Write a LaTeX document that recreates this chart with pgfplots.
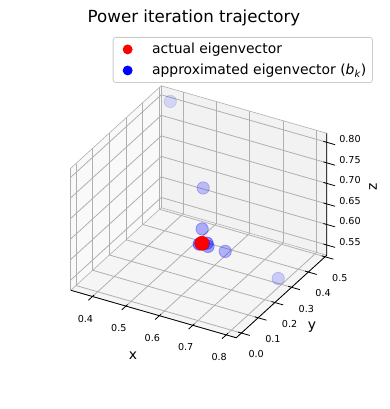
\documentclass[border=0pt]{standalone}
\usepackage{fontspec}
\setmainfont{DejaVu Sans}
\usepackage{pgfplots}
\pgfplotsset{compat=1.18}
\definecolor{gridc}{HTML}{B0B0B0}
\definecolor{paneX}{gray}{0.975}
\definecolor{paneY}{gray}{0.95}
\definecolor{paneZ}{gray}{0.9625}
\definecolor{mplblue}{rgb}{0,0,1}
\definecolor{mplred}{rgb}{1,0,0}
\definecolor{legframe}{gray}{0.8}
\pgfplotsset{mylegimg/.style={legend image code/.code={\path (-10.5pt,0pt) (22.5pt,0pt); \draw[##1] plot coordinates {(0pt,0pt)};}}}
\begin{document}
\begin{tikzpicture}[x=1pt,y=1pt]
\begin{axis}[
  set layers,
  x={(334.3pt,-96.0pt)}, y={(167.3pt,152.5pt)}, z={(0pt,410.8pt)},
  scale mode=none,
  xmin=0.335, xmax=0.83, ymin=-0.031, ymax=0.51, zmin=0.525, zmax=0.822,
  clip=false,
  grid=major,
  major grid style={gridc, line width=0.8pt},
  axis line style={gridc, line width=0.6pt},
  tick style={draw=none},
  major tick length=0pt,
  xtick={0.4,0.5,0.6,0.7,0.8}, xticklabels={0.4,0.5,0.6,0.7,0.8},
  ytick={0,0.1,0.2,0.3,0.4,0.5}, yticklabels={0.0,0.1,0.2,0.3,0.4,0.5},
  ztick={0.55,0.6,0.65,0.7,0.75,0.8}, zticklabels={0.55,0.60,0.65,0.70,0.75,0.80},
  zticklabel pos=right,
  tick label style={font=\fontsize{9.6}{11}\selectfont},
  xticklabel style={xshift=-3pt, yshift=-13pt},
  yticklabel style={xshift=7pt, yshift=-11pt},
  zticklabel style={xshift=9pt},
  xlabel={x}, ylabel={y}, zlabel={z},
  xlabel style={at={(axis description cs:0.2432,-0.07)}, anchor=center, rotate=0, font=\fontsize{13.9}{16}\selectfont},
  ylabel style={at={(axis description cs:0.9424,0.0427)}, anchor=center, rotate=0, font=\fontsize{13.9}{16}\selectfont},
  zlabel style={at={(axis description cs:1.1807,0.5982)}, anchor=center, rotate=0, font=\fontsize{13.9}{16}\selectfont},
  title={Power iteration trajectory},
  title style={at={(axis description cs:0.4814,1.245)}, anchor=center, font=\fontsize{16.67}{20}\selectfont},
  legend cell align=left,
  legend style={at={(axis description cs:1.18,1.1935)}, anchor=north east, draw=legframe, line width=0.8pt, fill=white,
    rounded corners=2.5pt, font=\fontsize{13.9}{16}\selectfont, row sep=5pt, inner xsep=4pt, inner ysep=4pt},
]
% panes
\addplot3[on layer=axis background, fill=paneX, draw=none, forget plot] coordinates
  {(0.335,-0.031,0.525) (0.335,0.51,0.525) (0.335,0.51,0.822) (0.335,-0.031,0.822) (0.335,-0.031,0.525)};
\addplot3[on layer=axis background, fill=paneY, draw=none, forget plot] coordinates
  {(0.335,0.51,0.525) (0.83,0.51,0.525) (0.83,0.51,0.822) (0.335,0.51,0.822) (0.335,0.51,0.525)};
\addplot3[on layer=axis background, fill=paneZ, draw=none, forget plot] coordinates
  {(0.335,-0.031,0.525) (0.83,-0.031,0.525) (0.83,0.51,0.525) (0.335,0.51,0.525) (0.335,-0.031,0.525)};
% black axis lines
\addplot3[black, line width=0.8pt, forget plot] coordinates
  {(0.335,-0.031,0.525) (0.83,-0.031,0.525) (0.83,0.51,0.525) (0.83,0.51,0.822)};
% tick marks
\pgfplotsinvokeforeach{0.4,0.5,0.6,0.7,0.8}{
  \addplot3[black, line width=0.8pt, forget plot] coordinates {(#1,-0.021,0.525) (#1,-0.056,0.525)};
}
\pgfplotsinvokeforeach{0,0.1,0.2,0.3,0.4,0.5}{
  \addplot3[black, line width=0.8pt, forget plot] coordinates {(0.82,#1,0.525) (0.855,#1,0.525)};
}
\pgfplotsinvokeforeach{0.55,0.6,0.65,0.7,0.75,0.8}{
  \addplot3[black, line width=0.8pt, forget plot] coordinates {(0.82,0.51,#1) (0.855,0.51,#1)};
}
% approximated eigenvectors b_k
\addplot3[only marks, mark=*, mark size=6.2pt, color=mplblue, line width=0.8pt,
  scatter, point meta=explicit symbolic,
  scatter/@pre marker code/.code={\pgfscope\pgfsetfillopacity{\pgfplotspointmeta}\pgfsetstrokeopacity{\pgfplotspointmeta}},
  scatter/@post marker code/.code={\endpgfscope},
  forget plot] table[x=x, y=y, z=z, meta=a] {
x      y      z      a
0.367  0.500  0.795  0.12
0.790  0.300  0.537  0.17
0.625  0.181  0.763  0.22
0.737  0.089  0.669  0.27
0.686  0.053  0.725  0.30
0.715  0.030  0.698  0.34
0.714  0.026  0.707  0.38
0.703  0.002  0.711  0.42
0.710  0.012  0.710  0.46
0.706  0.006  0.712  0.50
0.709  0.010  0.711  0.55
0.708  0.008  0.712  0.60
};
% actual eigenvector
\addplot3[only marks, mark=*, mark size=7pt, color=mplred, line width=0.6pt, forget plot] coordinates {(0.708,0.008,0.712)};
\addlegendimage{mylegimg, mark=*, mark size=4.5pt, color=mplred, draw=none}
\addlegendentry{actual eigenvector}
\addlegendimage{mylegimg, mark=*, mark size=4.5pt, color=mplblue, draw=none}
\addlegendentry{approximated eigenvector (\textit{b}\textsubscript{\textit{k}})}
\coordinate (O) at (axis cs:0.335,-0.031,0.525);
\end{axis}
\pgfresetboundingbox
\path[use as bounding box] ([shift={(-70.75pt,-118.75pt)}]O) rectangle ([shift={(318.25pt,290.25pt)}]O);
\end{tikzpicture}
\end{document}
